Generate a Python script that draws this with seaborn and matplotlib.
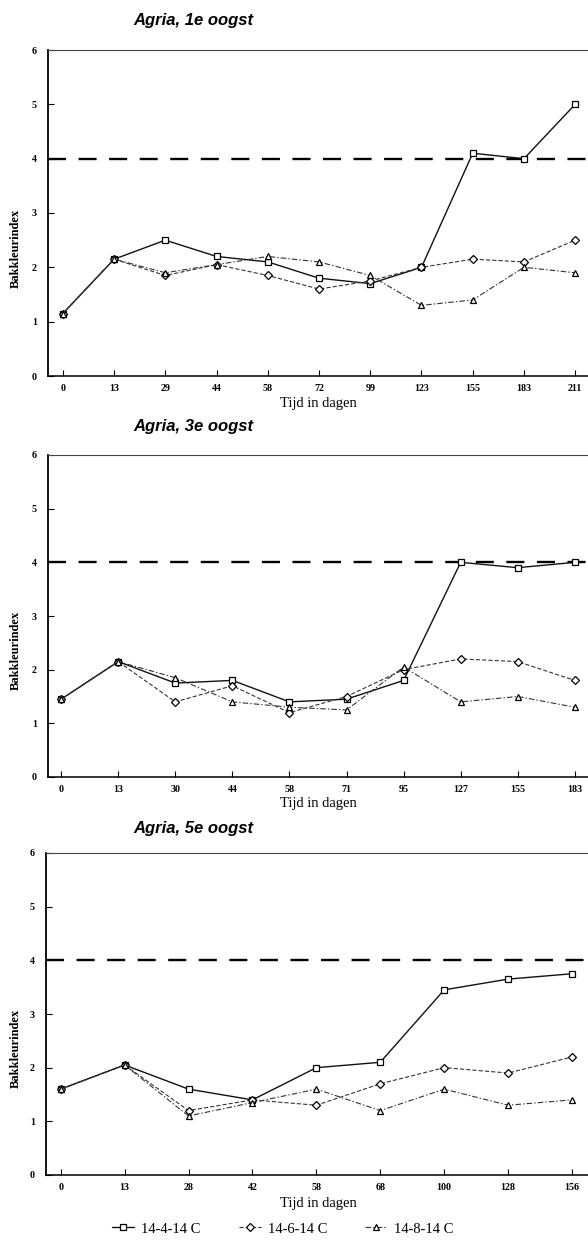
import matplotlib
matplotlib.use("Agg")
import matplotlib.pyplot as plt
import seaborn as sns
import numpy as np
import pandas as pd

# ---------------- data ----------------
days_1 = ["0", "13", "29", "44", "58", "72", "99", "123", "155", "183", "211"]
sq_1 = [1.15, 2.15, 2.5, 2.2, 2.1, 1.8, 1.7, 2.0, 4.1, 4.0, 5.0]
di_1 = [1.15, 2.15, 1.85, 2.05, 1.85, 1.6, 1.75, 2.0, 2.15, 2.1, 2.5]
tr_1 = [1.15, 2.15, 1.9, 2.05, 2.2, 2.1, 1.85, 1.3, 1.4, 2.0, 1.9]

days_3 = ["0", "13", "30", "44", "58", "71", "95", "127", "155", "183"]
sq_3 = [1.45, 2.15, 1.75, 1.8, 1.4, 1.45, 1.8, 4.0, 3.9, 4.0]
di_3 = [1.45, 2.15, 1.4, 1.7, 1.2, 1.5, 2.0, 2.2, 2.15, 1.8]
tr_3 = [1.45, 2.15, 1.85, 1.4, 1.3, 1.25, 2.05, 1.4, 1.5, 1.3]

days_5 = ["0", "13", "28", "42", "58", "68", "100", "128", "156"]
sq_5 = [1.6, 2.05, 1.6, 1.4, 2.0, 2.1, 3.45, 3.65, 3.75]
di_5 = [1.6, 2.05, 1.2, 1.4, 1.3, 1.7, 2.0, 1.9, 2.2]
tr_5 = [1.6, 2.05, 1.1, 1.35, 1.6, 1.2, 1.6, 1.3, 1.4]

titles = ["Agria, 1e oogst", "Agria, 3e oogst", "Agria, 5e oogst"]
series_names = ["14-4-14 C", "14-6-14 C", "14-8-14 C"]
threshold = 4
y_ticks = [0, 1, 2, 3, 4, 5, 6]
x_label = "Tijd in dagen"
y_label = "Bakkleurindex"

panels = [
    (days_1, [sq_1, di_1, tr_1]),
    (days_3, [sq_3, di_3, tr_3]),
    (days_5, [sq_5, di_5, tr_5]),
]

# ---------------- style ----------------
sns.set_theme(style="ticks")
plt.rcParams["font.family"] = ["Liberation Serif", "DejaVu Serif"]
plt.rcParams["lines.scale_dashes"] = False
plt.rcParams["text.color"] = "black"
plt.rcParams["xtick.color"] = "black"
plt.rcParams["ytick.color"] = "black"
plt.rcParams["xtick.labelcolor"] = "black"
plt.rcParams["ytick.labelcolor"] = "black"

W, H = 588, 1241
fig = plt.figure(figsize=(W / 100, H / 100), dpi=100)

def fx(px):
    return px / W

def fy(py):
    return 1 - py / H

# axes pixel geometry: (left, top, bottom, xlim)
geom = [
    (48, 50, 376, (-0.29, 10.25)),
    (48, 455, 777, (-0.23, 9.23)),
    (46, 853, 1175, (-0.23, 8.25)),
]
title_y = [20, 427, 828]
xlabel_y = [403, 803, 1204]

styles = [
    dict(marker="s", linestyle="-", lw=1.0, color="#111111"),
    dict(marker="D", linestyle=(0, (3, 1.5)), lw=0.8, color="#333333"),
    dict(marker="^", linestyle=(0, (4, 1.5, 1, 1.5)), lw=0.8, color="#333333"),
]
msizes = [5, 4.2, 5]

handles = []
for i, ((days, vals), (left, top, bottom, xl)) in enumerate(zip(panels, geom)):
    ax = fig.add_axes([fx(left), fy(bottom), fx(W - left), (bottom - top) / H])
    pos = np.arange(len(days))
    for j, v in enumerate(vals):
        df = pd.DataFrame({"pos": pos, "val": v})
        st = styles[j]
        sns.lineplot(data=df, x="pos", y="val", ax=ax, marker=st["marker"],
                     linestyle=st["linestyle"], lw=st["lw"], color=st["color"],
                     markersize=msizes[j], markerfacecolor="white",
                     markeredgecolor="black", markeredgewidth=0.9,
                     label=series_names[j] if i == 2 else None, legend=False)
    ax.axhline(threshold, color="black", lw=1.7, dashes=(13, 9), zorder=1)
    ax.set_xlim(*xl)
    ax.set_ylim(0, 6)
    ax.set_xticks(pos)
    ax.set_xticklabels(days)
    ax.set_yticks(y_ticks)
    ax.set_yticklabels([str(t) for t in y_ticks])
    ax.tick_params(axis="both", direction="in", length=4, width=0.8,
                   labelsize=7.2, color="black", labelcolor="black")
    ax.tick_params(axis="x", pad=6)
    ax.tick_params(axis="y", pad=8)
    for lab in ax.get_xticklabels() + ax.get_yticklabels():
        lab.set_fontweight("bold")
    ax.set_xlabel("")
    ax.set_ylabel("")
    ax.spines["right"].set_visible(False)
    ax.spines["left"].set_linewidth(1.3)
    ax.spines["bottom"].set_linewidth(1.1)
    ax.spines["top"].set_linewidth(0.8)
    ax.spines["top"].set_color("#444444")
    for s in ["left", "bottom"]:
        ax.spines[s].set_color("black")

    fig.text(fx(193), fy(title_y[i]), titles[i], ha="center", va="center",
             fontsize=12, fontweight="bold", fontstyle="italic", color="black",
             family=["Liberation Sans", "DejaVu Sans"])
    fig.text(fx(318), fy(xlabel_y[i]), x_label, ha="center", va="center",
             fontsize=10.5, color="black")
    ylab_center = bottom - 2.35 * (bottom - top) / 6
    fig.text(fx(16), fy(ylab_center), y_label, ha="center", va="center",
             rotation=90, fontsize=9, fontweight="bold", color="black")
    if i == 2:
        h, l = ax.get_legend_handles_labels()
        handles = (h, l)

leg = fig.legend(handles[0], handles[1], loc="center", ncol=3,
                 bbox_to_anchor=(fx(283), fy(1229)), frameon=False,
                 fontsize=10.5, handlelength=1.5, handletextpad=0.5,
                 columnspacing=2.6)
for t in leg.get_texts():
    t.set_color("black")

fig.savefig("out.png", dpi=100)
